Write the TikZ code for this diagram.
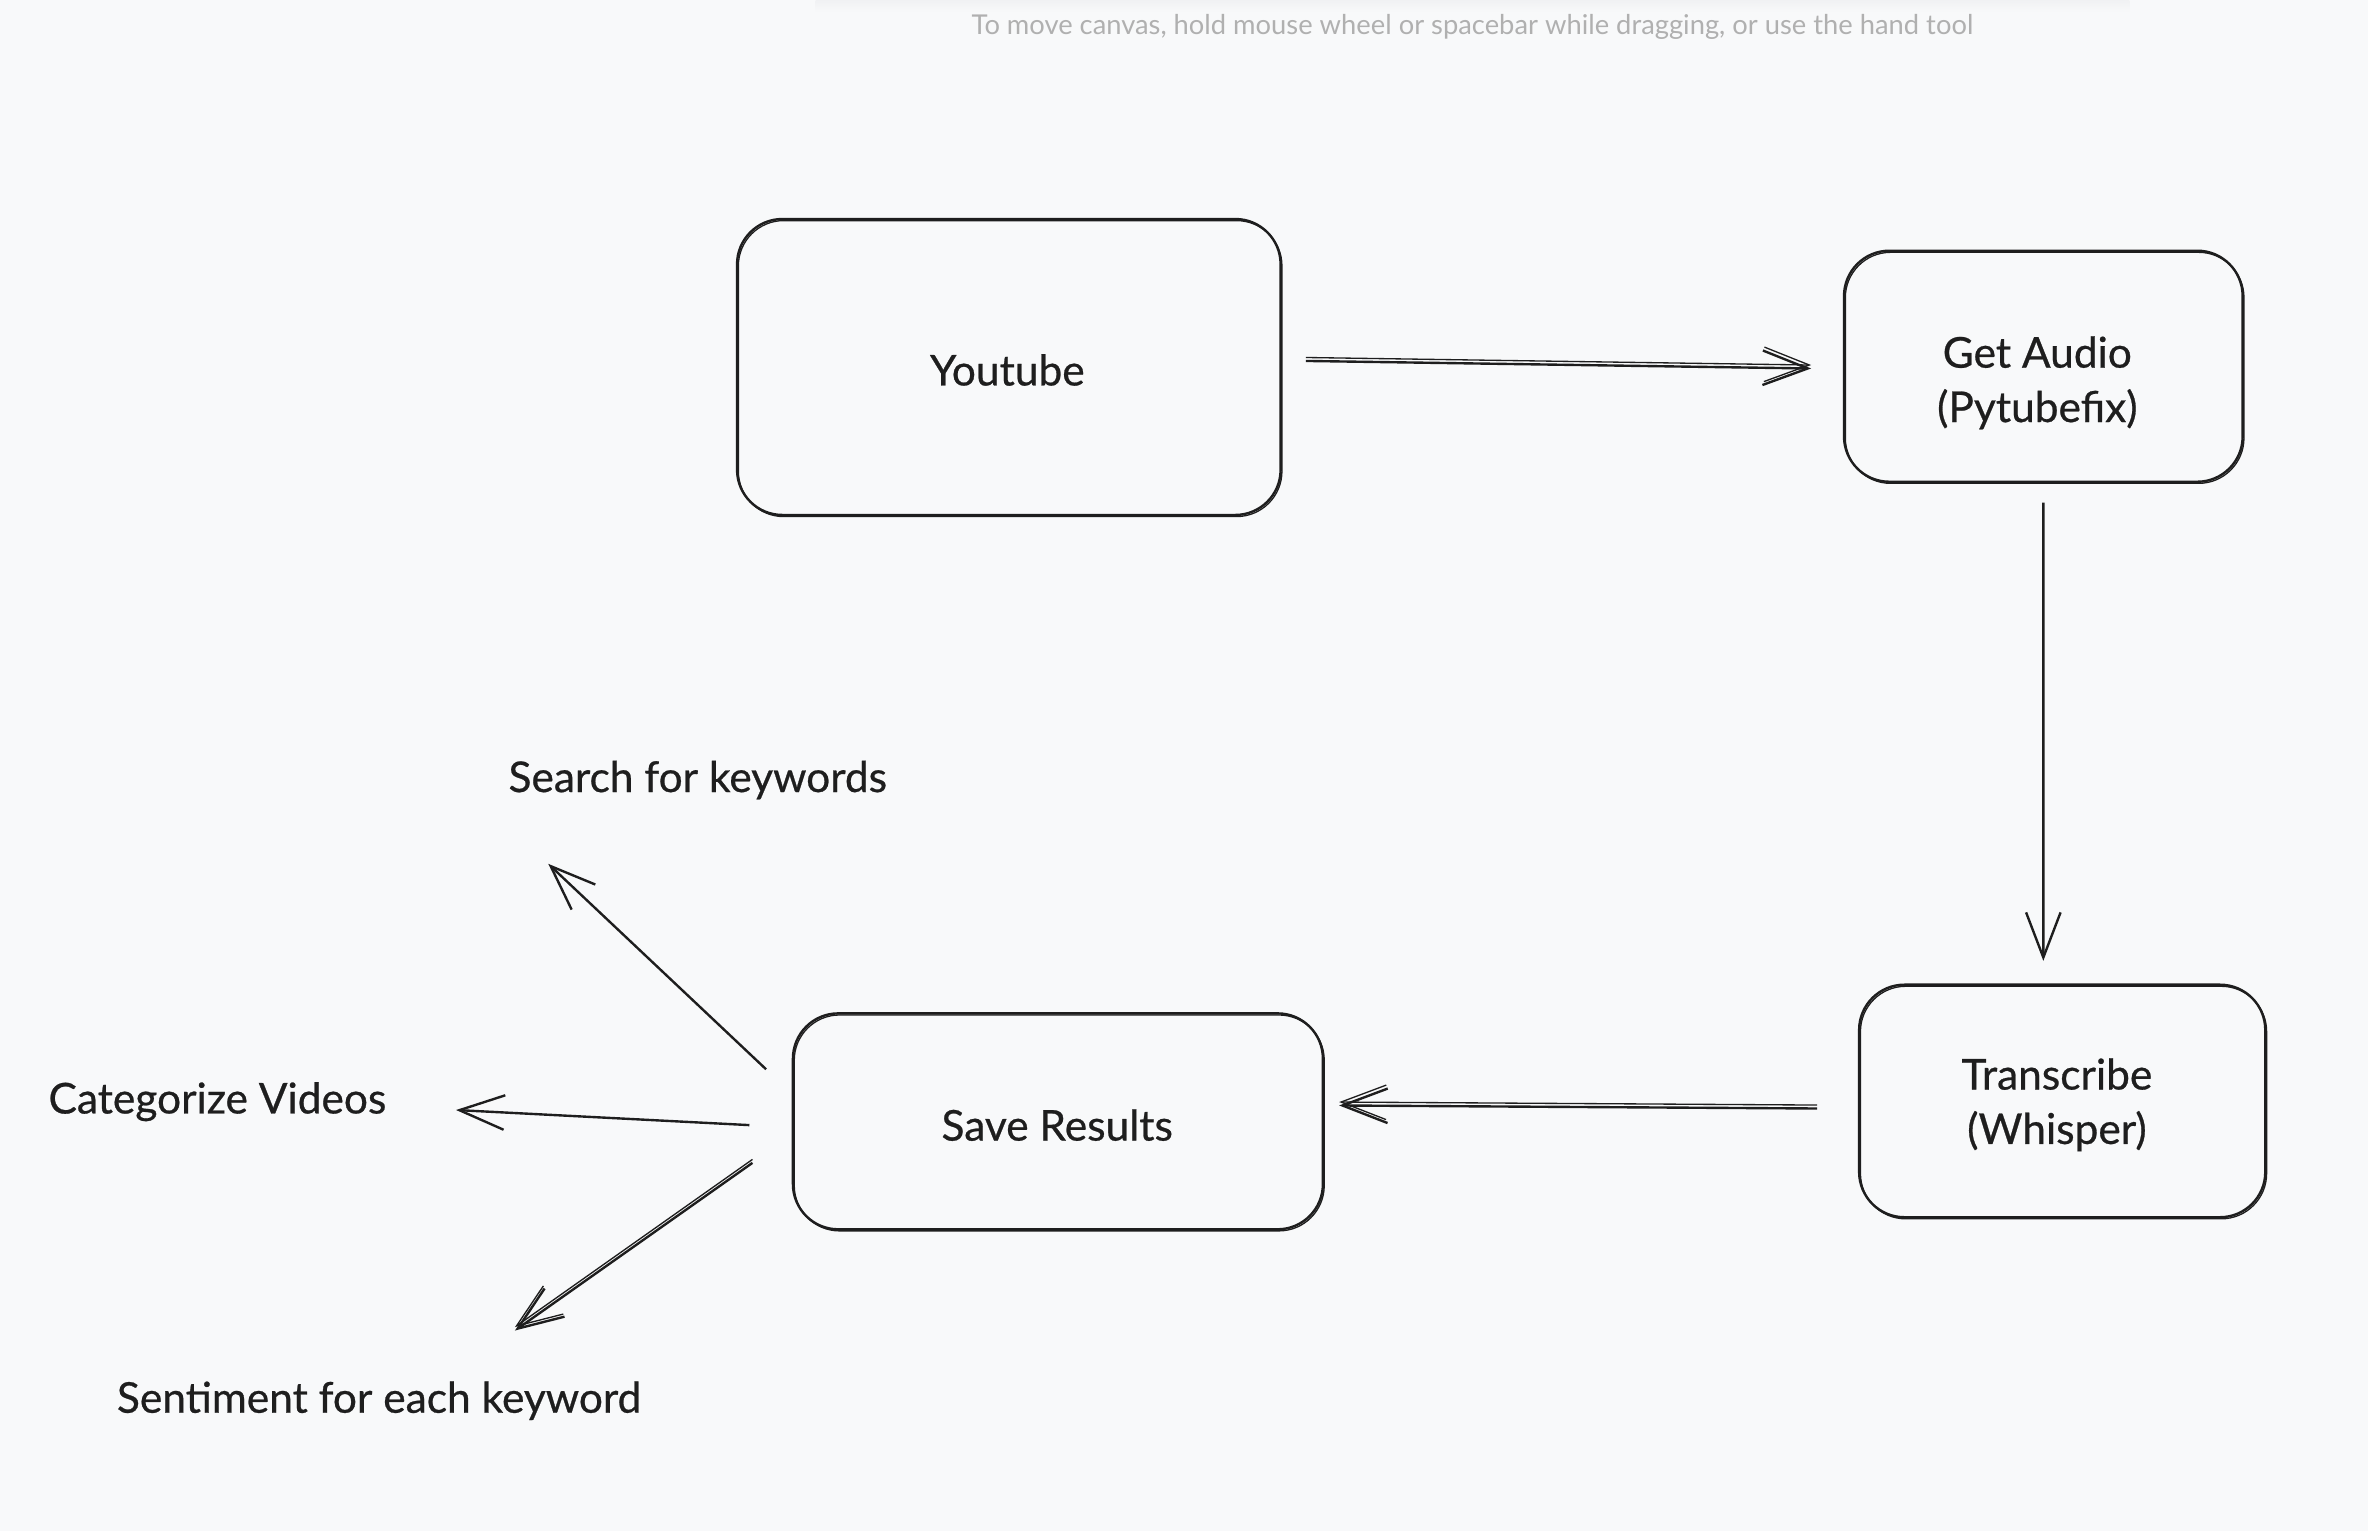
\documentclass[tikz,border=0pt]{standalone}
\usepackage{fontspec}
\setmainfont{Lato}
\newfontface\nunfont{Lato}[FakeBold=0.6]
\usetikzlibrary{arrows.meta}
\definecolor{bg}{HTML}{F8F9FA}
\definecolor{ink}{HTML}{1E1E1E}
\definecolor{hintc}{HTML}{B0B0B0}
\definecolor{shad}{HTML}{F0F1F3}
\begin{document}
\begin{tikzpicture}[x=0.02cm,y=-0.02cm,
  box/.style={draw=ink, line width=0.9pt, rounded corners=0.6cm, inner sep=0pt,
    preaction={draw=ink, line width=0.5pt, transform canvas={xshift=0.5pt,yshift=-0.6pt}}},
  lbl/.style={text=ink, inner sep=0pt, align=center, font=\nunfont\fontsize{16}{20.5}\selectfont},
  arr/.style={draw=ink, line width=0.9pt, -{Straight Barb[length=17pt,width=13pt]}},
  dbl/.style={preaction={draw=ink, line width=0.5pt, transform canvas={yshift=1.3pt}}}
]
\fill[bg] (0,0) rectangle (1568,1014);
\useasboundingbox (0,0) rectangle (1568,1014);
\shade[top color=shad, bottom color=bg] (540,0) rectangle (1410,8);

\node[text=hintc, font=\fontsize{10.3}{12}\selectfont] (hint) at (975,18)
  {To move canvas, hold mouse wheel or spacebar while dragging, or use the hand tool};

\node[box, minimum width=7.2cm, minimum height=3.92cm] (yt) at (668,243) {};
\node[box, minimum width=5.28cm, minimum height=3.06cm] (ga) at (1353,242.5) {};
\node[box, minimum width=5.38cm, minimum height=3.08cm] (tr) at (1365.5,729) {};
\node[box, minimum width=7.02cm, minimum height=2.86cm] (sr) at (700.5,742.5) {};

\node[lbl] (ytt) at (667,245) {Youtube};
\node[lbl] (gat) at (1349,253.5) {Get Audio\\(Pytubefix)};
\node[lbl] (trt) at (1362,731.5) {Transcribe\\(Whisper)};
\node[lbl] (srt) at (700,745) {Save Results};

\node[lbl] (kw) at (462,516.5) {Search for keywords};
\node[lbl] (cat) at (144,729.5) {Categorize Videos};
\node[lbl] (sent) at (251,927.5) {Sentiment for each keyword};

\draw[arr,dbl] ([xshift=0.32cm,yshift=0.08cm]yt.east) -- ([xshift=-0.42cm,yshift=-0.03cm]ga.west);
\draw[arr] ([xshift=0cm,yshift=-0.26cm]ga.south) -- ([xshift=-0.25cm,yshift=0.30cm]tr.north);
\draw[arr,dbl] ([xshift=-0.54cm,yshift=-0.1cm]tr.west) -- ([xshift=0.2cm,yshift=0.21cm]sr.east);
\draw[arr] ([xshift=-0.34cm,yshift=0.69cm]sr.west) -- ([xshift=-1.98cm,yshift=-1.11cm]kw.center);
\draw[arr] ([xshift=-0.56cm,yshift=-0.05cm]sr.west) -- ([xshift=3.16cm,yshift=-0.11cm]cat.center);
\draw[arr,dbl] ([xshift=-0.52cm,yshift=-0.55cm]sr.west) -- ([xshift=1.8cm,yshift=0.93cm]sent.center);
\end{tikzpicture}
\end{document}
